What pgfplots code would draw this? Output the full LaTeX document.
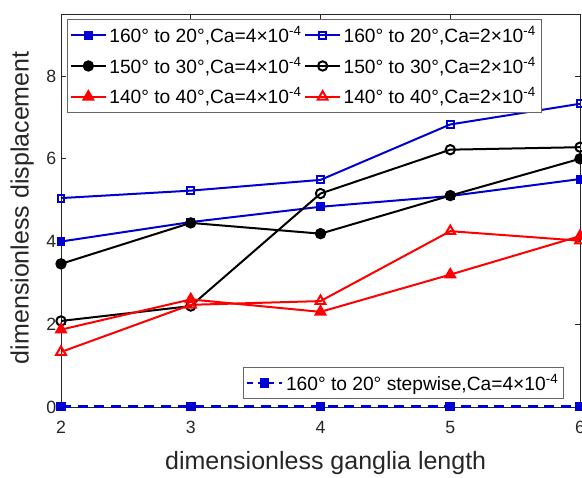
\documentclass[border=0pt]{standalone}
\usepackage{fontspec}
\setmainfont{Liberation Sans}
\usepackage{pgfplots}
\pgfplotsset{compat=1.18}
\definecolor{mblue}{RGB}{0,0,210}
\definecolor{mred}{RGB}{255,0,0}
\definecolor{axgray}{gray}{0.15}
\pgfplotsset{
 common/.style={
  scale only axis, width=389.25pt, height=294.75pt,
  xmin=2,xmax=6,ymin=0,ymax=9.5,
  xtick={2,3,4,5,6}, ytick={0,2,4,6,8},
  tick align=inside, tick pos=both, major tick length=4pt,
  axis line style={axgray, line width=0.5pt},
  tick style={axgray, line width=0.5pt},
  ticklabel style={font=\fontsize{13.3}{16}\selectfont, text=axgray},
  /pgf/number format/assume math mode=true,
  xticklabel style={yshift=-7pt},
  legend cell align=left,
  legend style={font=\fontsize{14.4}{16}\selectfont, draw=axgray!70, line width=0.5pt, fill=white, inner xsep=2pt, inner ysep=3pt, row sep=5.5pt, text=black},
  legend image code/.code={\draw[mark repeat=2,mark phase=2] plot coordinates {(0pt,0pt) (13pt,0pt) (26pt,0pt)};},
 },
 ser/.style={line width=1.5pt, mark options={solid, line width=1.5pt}},
}
\begin{document}
\begin{tikzpicture}
\begin{axis}[common, clip=false, axis on top=false,
  xlabel={dimensionless ganglia length},
  ylabel={dimensionless displacement},
  xlabel style={at={(axis description cs:0.51,-0.160)}, anchor=base, font=\fontsize{18.75}{20}\selectfont, text=axgray},
  ylabel style={at={(axis description cs:-0.075,0.507)}, anchor=center, font=\fontsize{18.75}{20}\selectfont, text=axgray},
  legend columns=2,
  legend style={at={(rel axis cs:0.0116,0.987)}, anchor=north west},
]
\coordinate (sw) at (rel axis cs:0,0);
\coordinate (ne) at (rel axis cs:1,1);
\addplot[ser, color=mblue, mark=square*, mark size=2.6pt] coordinates {(2,4.0) (3,4.47) (4,4.84) (5,5.1) (6,5.51)};
\addlegendentry{160° to 20°,Ca=4×10\textsuperscript{-4}}
\addplot[ser, color=mblue, mark=square, mark size=2.6pt] coordinates {(2,5.05) (3,5.23) (4,5.49) (5,6.83) (6,7.33)};
\addlegendentry{160° to 20°,Ca=2×10\textsuperscript{-4}}
\addplot[ser, color=black, mark=*, mark size=3.5pt] coordinates {(2,3.46) (3,4.45) (4,4.19) (5,5.11) (6,6.0)};
\addlegendentry{150° to 30°,Ca=4×10\textsuperscript{-4}}
\addplot[ser, color=black, mark=o, mark size=3.5pt] coordinates {(2,2.08) (3,2.44) (4,5.16) (5,6.22) (6,6.28)};
\addlegendentry{150° to 30°,Ca=2×10\textsuperscript{-4}}
\addplot[ser, color=mred, mark=triangle*, mark size=4.2pt] coordinates {(2,1.87) (3,2.6) (4,2.3) (5,3.2) (6,4.13)};
\addlegendentry{140° to 40°,Ca=4×10\textsuperscript{-4}}
\addplot[ser, color=mred, mark=triangle, mark size=4.2pt] coordinates {(2,1.33) (3,2.47) (4,2.56) (5,4.25) (6,4.02)};
\addlegendentry{140° to 40°,Ca=2×10\textsuperscript{-4}}
\addplot[forget plot, draw=mblue, line width=2pt, dash pattern=on 7.5pt off 5pt, mark=square*, mark size=2.6pt, mark options={solid, fill=mblue, draw=mblue}] coordinates {(2,0.01) (3,0.01) (4,0.01) (5,0.01) (6,0.01)};
\end{axis}
\begin{axis}[common, hide axis,
  legend style={at={(rel axis cs:0.3507,0.1018)}, anchor=north west, row sep=0pt},
]
\addlegendimage{draw=mblue, line width=2pt, dash pattern=on 4pt off 4pt, mark=square*, mark size=2.6pt, mark options={solid, fill=mblue, draw=mblue}}
\addlegendentry{160° to 20° stepwise,Ca=4×10\textsuperscript{-4}}
\end{axis}
\pgfresetboundingbox
\useasboundingbox ([xshift=-45.75pt,yshift=-53.25pt]sw) rectangle ([xshift=1.5pt,yshift=10.5pt]ne);
\end{tikzpicture}
\end{document}
